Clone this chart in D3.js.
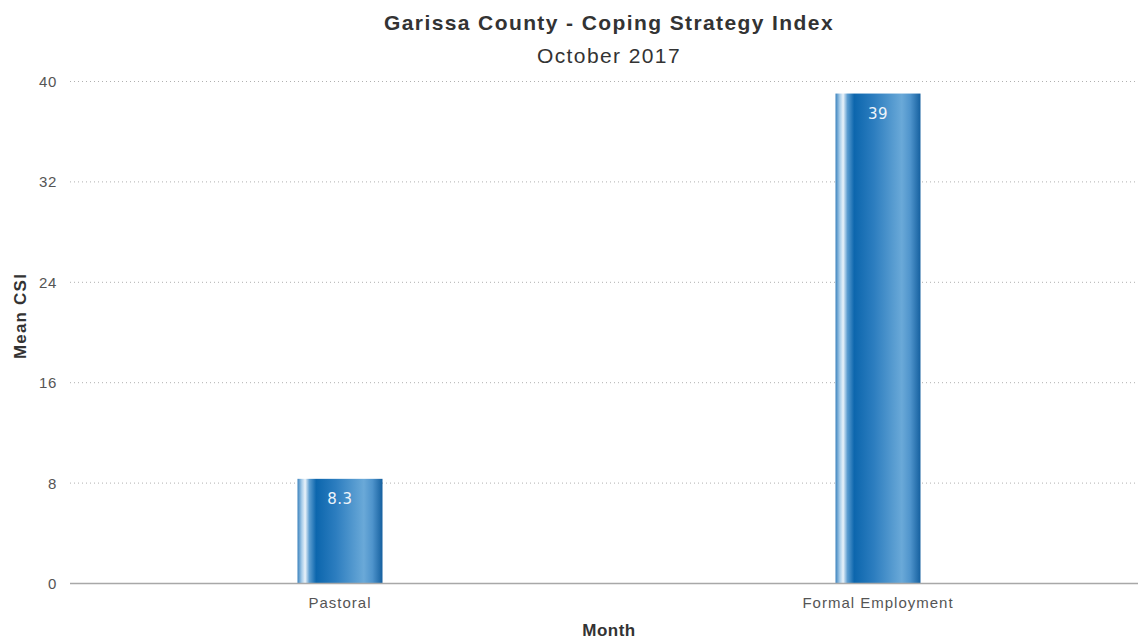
<!DOCTYPE html>
<html>
<head>
<meta charset="utf-8">
<script src="https://cdn.jsdelivr.net/npm/d3@7"></script>
<style>
  body { margin: 0; background: #fff; }
  text { font-family: "Liberation Sans", Arial, sans-serif; }
</style>
</head>
<body>
<div id="root"></div>
<script>
const categories = ["Pastoral", "Formal Employment"];
const values = [8.3, 39];
const yTicks = [0, 8, 16, 24, 32, 40];

const width = 1139;
const height = 639;
const plotLeft = 70, plotRight = 1138, plotTop = 81, plotBottom = 583;

const svg = d3.select("#root").append("svg")
    .attr("width", width)
    .attr("height", height);

// bar shading
const grad = svg.append("defs").append("linearGradient")
    .attr("id", "barGrad")
    .attr("x1", "0%").attr("x2", "100%").attr("y1", "0%").attr("y2", "0%");
[
    [0, "#3a82bd"], [0.05, "#a6cce9"], [0.09, "#eaf3fa"], [0.14, "#5c9dd0"],
    [0.22, "#0c66ad"], [0.45, "#2c7dbf"], [0.78, "#6aa9d8"], [0.88, "#4f94cc"],
    [1, "#15609f"]
].forEach(([o, c]) => grad.append("stop").attr("offset", o).attr("stop-color", c));

const x = d3.scaleBand()
    .domain(categories)
    .range([71, 1147]);

const y = d3.scaleLinear()
    .domain([0, 40])
    .range([plotBottom, plotTop]);

// gridlines
svg.selectAll(".grid")
    .data(yTicks.filter(d => d > 0))
    .enter().append("line")
    .attr("x1", plotLeft).attr("x2", plotRight)
    .attr("y1", d => y(d) + 0.5).attr("y2", d => y(d) + 0.5)
    .attr("stroke", "#b0b0b0")
    .attr("stroke-width", 1)
    .attr("stroke-dasharray", "1,3");

// y tick labels
svg.selectAll(".ytick")
    .data(yTicks)
    .enter().append("text")
    .attr("x", 57)
    .attr("y", d => y(d) + 6)
    .attr("text-anchor", "end")
    .style("font-size", "15px")
    .style("letter-spacing", "0.6px")
    .style("fill", "#555")
    .text(d => d);

// bars
const barW = 85;
svg.selectAll(".bar")
    .data(values)
    .enter().append("rect")
    .attr("x", (d, i) => x(categories[i]) + x.bandwidth() / 2 - barW / 2)
    .attr("y", d => y(d))
    .attr("width", barW)
    .attr("height", d => y(0) - y(d))
    .attr("fill", "url(#barGrad)");

// value labels
svg.selectAll(".val")
    .data(values)
    .enter().append("text")
    .attr("x", (d, i) => x(categories[i]) + x.bandwidth() / 2)
    .attr("y", d => y(d) + 25)
    .attr("text-anchor", "middle")
    .style("font-family", "'DejaVu Sans', sans-serif")
    .style("font-size", "15px")
    .style("letter-spacing", "0.5px")
    .style("fill", "#eef4fa")
    .text(d => d);

// baseline
svg.append("line")
    .attr("x1", plotLeft).attr("x2", plotRight)
    .attr("y1", plotBottom + 0.5).attr("y2", plotBottom + 0.5)
    .attr("stroke", "#a8a8a8")
    .attr("stroke-width", 1.5);

// x labels
svg.selectAll(".xtick")
    .data(categories)
    .enter().append("text")
    .attr("x", d => x(d) + x.bandwidth() / 2)
    .attr("y", 608)
    .attr("text-anchor", "middle")
    .style("font-size", "15px")
    .style("letter-spacing", "1px")
    .style("fill", "#555")
    .text(d => d);

// titles
svg.append("text")
    .attr("x", 609).attr("y", 30)
    .attr("text-anchor", "middle")
    .style("font-size", "21px")
    .style("font-weight", "bold")
    .style("letter-spacing", "1.4px")
    .style("fill", "#333")
    .text("Garissa County - Coping Strategy Index");

svg.append("text")
    .attr("x", 609).attr("y", 63)
    .attr("text-anchor", "middle")
    .style("font-size", "21px")
    .style("letter-spacing", "1.4px")
    .style("fill", "#333")
    .text("October 2017");

svg.append("text")
    .attr("transform", "translate(26,316) rotate(-90)")
    .attr("text-anchor", "middle")
    .style("font-size", "17px")
    .style("font-weight", "bold")
    .style("letter-spacing", "1.2px")
    .style("fill", "#333")
    .text("Mean CSI");

svg.append("text")
    .attr("x", 609).attr("y", 636)
    .attr("text-anchor", "middle")
    .style("font-size", "17px")
    .style("font-weight", "bold")
    .style("letter-spacing", "0.5px")
    .style("fill", "#333")
    .text("Month");
</script>
</body>
</html>
